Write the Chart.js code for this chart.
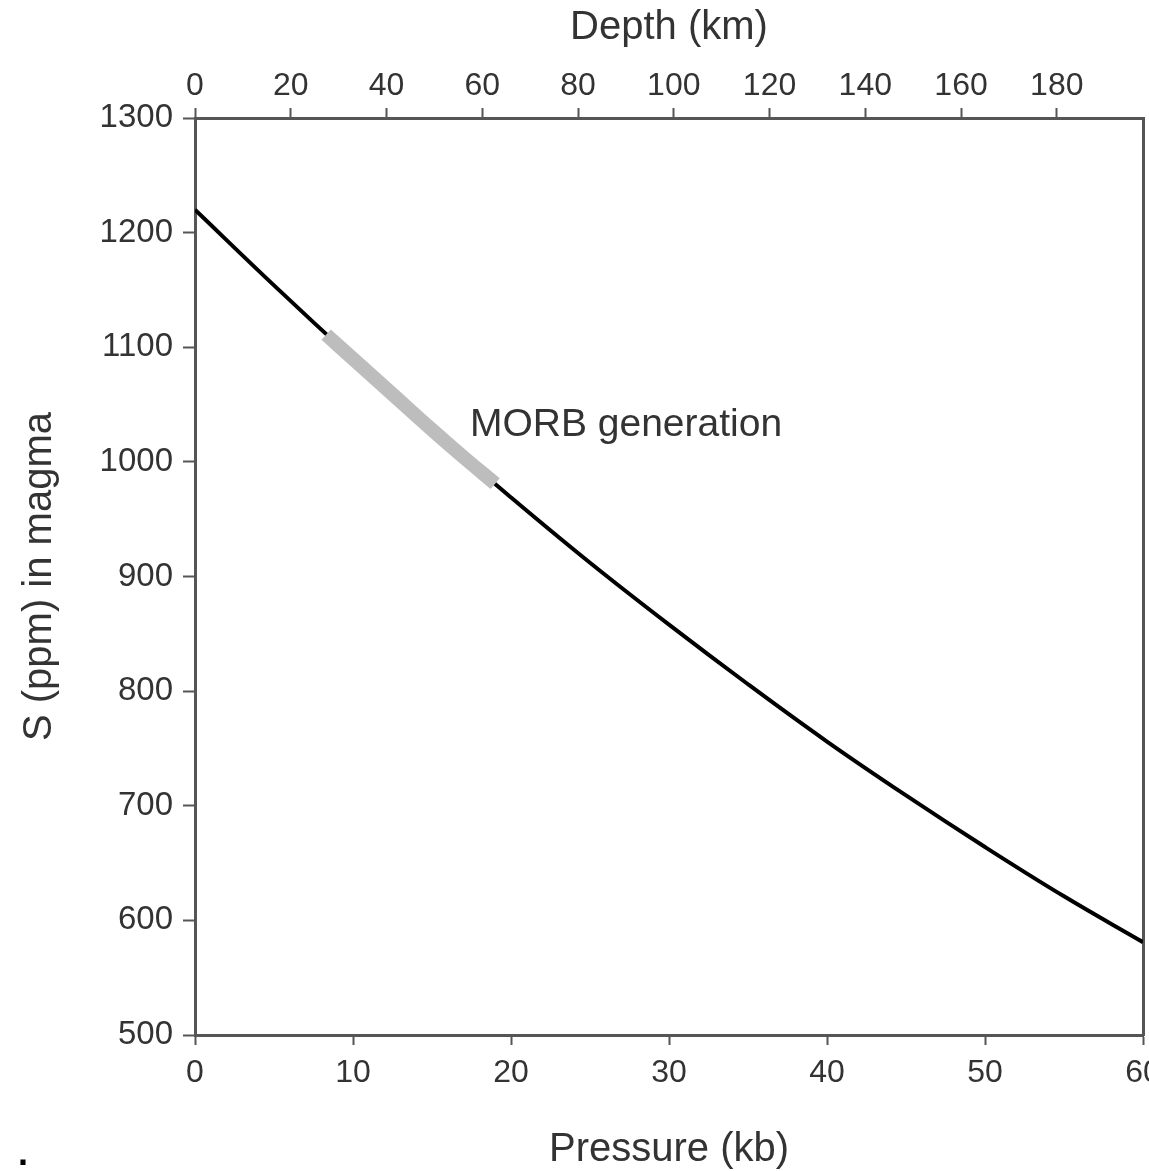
<!DOCTYPE html>
<html>
<head>
<meta charset="utf-8">
<script src="https://cdn.jsdelivr.net/npm/chart.js@4/dist/chart.umd.min.js"></script>
<style>
  html, body { margin: 0; padding: 0; background: #fff; }
  canvas { display: block; }
</style>
</head>
<body>
<canvas id="c" width="1149" height="1171"></canvas>
<script>
// ---- data ----
const pressureKb = [0, 5, 10, 15, 20, 25, 30, 35, 40, 45, 50, 55, 60];
const sulfurPpm  = [1220, 1154, 1090, 1028, 969, 912, 858, 806, 756, 709, 664, 621, 581];
const morbPressureKb = [8.3, 10, 12.5, 15, 17, 19];
const morbSulfurPpm  = [1111, 1090, 1059, 1028, 1004, 981];
const pressureTicks = [0, 10, 20, 30, 40, 50, 60];
const depthTicks = [0, 20, 40, 60, 80, 100, 120, 140, 160, 180];
const depthMaxKm = 198;
const sTicks = [500, 600, 700, 800, 900, 1000, 1100, 1200, 1300];
const annotationText = 'MORB generation';
const annotationAt = { x: 17.4, y: 1032 };

const AXIS = '#555555';
const TXT = '#333333';
const FONT = "'Liberation Sans', Arial, Helvetica, sans-serif";

const curve = pressureKb.map((p, i) => ({ x: p, y: sulfurPpm[i] }));
const morb = morbPressureKb.map((p, i) => ({ x: p, y: morbSulfurPpm[i] }));

const labelPlugin = {
  id: 'labelPlugin',
  afterDatasetsDraw(chart) {
    const { ctx, scales } = chart;
    ctx.save();
    ctx.fillStyle = TXT;
    ctx.font = '39px ' + FONT;
    ctx.textAlign = 'left';
    ctx.textBaseline = 'middle';
    ctx.fillText(annotationText, scales.x.getPixelForValue(annotationAt.x), scales.y.getPixelForValue(annotationAt.y));
    ctx.fillStyle = '#000';
    ctx.font = 'bold 36px ' + FONT;
    ctx.fillText('.', 18, 1155);
    ctx.restore();
  }
};

function fixW(w) { return s => { s.width = w; s.paddingLeft = 0; s.paddingRight = 0; s.paddingTop = 0; s.paddingBottom = 0; }; }
function fixH(h) { return s => { s.height = h; s.paddingLeft = 0; s.paddingRight = 0; s.paddingTop = 0; s.paddingBottom = 0; }; }
const plain = v => String(v);

new Chart(document.getElementById('c'), {
  type: 'scatter',
  data: {
    datasets: [
      {
        data: curve,
        showLine: true,
        borderColor: '#000',
        borderWidth: 4,
        pointRadius: 0,
        tension: 0.4,
        order: 2,
        xAxisID: 'x', yAxisID: 'y'
      },
      {
        data: morb,
        showLine: true,
        borderColor: '#bdbdbd',
        borderWidth: 14,
        borderCapStyle: 'butt',
        pointRadius: 0,
        tension: 0.4,
        order: 1,
        xAxisID: 'x', yAxisID: 'y'
      }
    ]
  },
  options: {
    responsive: false,
    animation: false,
    devicePixelRatio: 1,
    layout: { padding: 0 },
    plugins: { legend: { display: false }, tooltip: { enabled: false } },
    scales: {
      x: {
        type: 'linear', position: 'bottom', min: 0, max: 60,
        afterBuildTicks: s => { s.ticks = pressureTicks.map(v => ({ value: v })); },
        ticks: { color: TXT, font: { family: FONT, size: 32 }, padding: 9, maxRotation: 0, callback: plain },
        grid: { drawOnChartArea: false, drawTicks: true, tickLength: 10, tickWidth: 2, color: AXIS },
        border: { display: true, color: AXIS, width: 3 },
        title: { display: true, text: 'Pressure (kb)', color: TXT, font: { family: FONT, size: 40, lineHeight: 1 }, padding: { top: 0, bottom: 1 } },
        afterFit: fixH(136)
      },
      x2: {
        type: 'linear', position: 'top', min: 0, max: depthMaxKm,
        afterBuildTicks: s => { s.ticks = depthTicks.map(v => ({ value: v })); },
        ticks: { color: TXT, font: { family: FONT, size: 32 }, padding: 3, maxRotation: 0, includeBounds: false, callback: plain },
        grid: { drawOnChartArea: false, drawTicks: true, tickLength: 10, tickWidth: 2, color: AXIS },
        border: { display: true, color: AXIS, width: 3 },
        title: { display: true, text: 'Depth (km)', color: TXT, font: { family: FONT, size: 40, lineHeight: 1 }, padding: { top: 8, bottom: 0 } },
        afterFit: fixH(118)
      },
      y: {
        type: 'linear', position: 'left', min: 500, max: 1300,
        afterBuildTicks: s => { s.ticks = sTicks.map(v => ({ value: v })); },
        ticks: { color: TXT, font: { family: FONT, size: 33 }, padding: 10, callback: plain },
        grid: { drawOnChartArea: false, drawTicks: true, tickLength: 12, tickWidth: 2, color: AXIS },
        border: { display: true, color: AXIS, width: 3 },
        title: { display: true, text: 'S (ppm) in magma', color: TXT, font: { family: FONT, size: 40, lineHeight: 1 }, padding: { top: 20, bottom: 0 } },
        afterFit: fixW(195)
      },
      y2: {
        type: 'linear', position: 'right', min: 500, max: 1300,
        ticks: { display: false },
        grid: { drawOnChartArea: false, drawTicks: false },
        border: { display: true, color: AXIS, width: 3 },
        afterFit: fixW(6)
      }
    }
  },
  plugins: [labelPlugin]
});
</script>
</body>
</html>
